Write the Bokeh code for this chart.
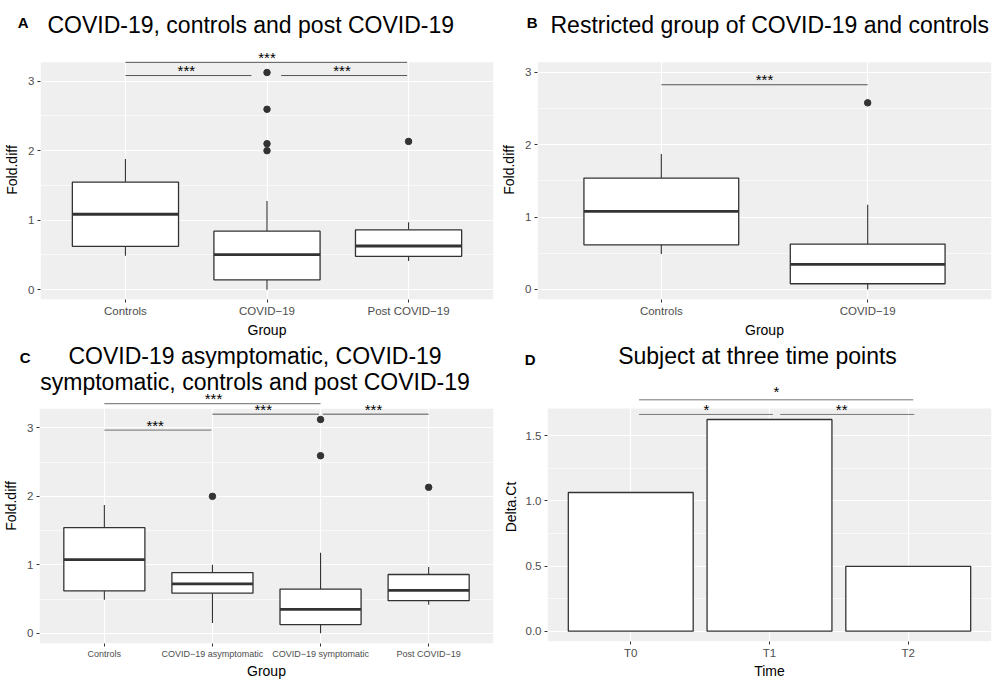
from bokeh.plotting import figure
from bokeh.models import Range1d, FixedTicker, Label, Arrow, PrintfTickFormatter
from bokeh.layouts import column, row
from bokeh.embed import file_html
from bokeh.resources import INLINE

FONT = "Liberation Sans"
BG = "#EEEFEE"
INK = "#333333"

# ---------------- data ----------------
# Panel A
a_groups = ["Controls", "COVID−19", "Post COVID−19"]
a_lower = [0.49, 0.0, 0.414]
a_q1 = [0.624, 0.143, 0.481]
a_med = [1.086, 0.505, 0.629]
a_q3 = [1.548, 0.843, 0.862]
a_upper = [1.88, 1.276, 0.971]
a_out_group = ["COVID−19", "COVID−19", "COVID−19", "COVID−19", "Post COVID−19"]
a_out_vals = [2.0, 2.1, 2.595, 3.124, 2.133]

# Panel B
b_groups = ["Controls", "COVID−19"]
b_lower = [0.49, 0.0]
b_q1 = [0.616, 0.078]
b_med = [1.078, 0.347]
b_q3 = [1.539, 0.626]
b_upper = [1.872, 1.17]
b_out_group = ["COVID−19"]
b_out_vals = [2.58]

# Panel C
c_groups = ["Controls", "COVID−19 asymptomatic", "COVID−19 symptomatic", "Post COVID−19"]
c_lower = [0.49, 0.151, 0.0, 0.415]
c_q1 = [0.618, 0.585, 0.127, 0.476]
c_med = [1.075, 0.722, 0.349, 0.627]
c_q3 = [1.542, 0.887, 0.646, 0.858]
c_upper = [1.873, 1.0, 1.175, 0.967]
c_out_group = ["COVID−19 asymptomatic", "COVID−19 symptomatic", "COVID−19 symptomatic", "Post COVID−19"]
c_out_vals = [2.0, 2.594, 3.123, 2.132]

# Panel D
d_times = ["T0", "T1", "T2"]
d_values = [1.064, 1.624, 0.498]

# significance brackets: (x_start, x_end, y, label, label_x, label_offset_px)
a_sig = [(1.0, 1.89, 3.08, "***", 1.43, 5), (2.10, 2.99, 3.08, "***", 2.53, 5),
         (1.0, 2.99, 3.27, "***", 2.0, 5)]
b_sig = [(1.0, 2.0, 2.83, "***", 1.5, 5)]
c_sig = [(1.0, 1.99, 2.967, "***", 1.47, 5), (2.0, 2.985, 3.20, "***", 2.47, 5),
         (3.02, 4.0, 3.20, "***", 3.49, 5), (1.0, 3.0, 3.354, "***", 2.01, 5)]
d_sig = [(1.06, 2.025, 1.663, "*", 1.545, 5), (2.077, 3.043, 1.663, "**", 2.52, 5),
         (1.06, 3.036, 1.775, "*", 2.05, 8)]


# ---------------- helpers ----------------
def make_fig(width, height, L, R, extra_top, B, xr, gray_y, yticks, yminor, xlabels, xlabel, ylabel,
             tick_size="11.5px", ylab_standoff=5, xlab_standoff=2):
    gray_h = height - extra_top - B
    y_end = gray_y[1] + extra_top * (gray_y[1] - gray_y[0]) / gray_h
    p = figure(width=width, height=height, x_range=Range1d(*xr), y_range=Range1d(gray_y[0], y_end),
               output_backend="svg", toolbar_location=None,
               min_border_left=L, min_border_right=R, min_border_top=0, min_border_bottom=B,
               background_fill_color="white", border_fill_color="white", outline_line_color=None)
    # ggplot-style grey panel
    p.quad(left=[xr[0]], right=[xr[1]], bottom=[gray_y[0]], top=[gray_y[1]],
           fill_color=BG, line_color=None, level="image")
    positions = [i + 1 for i in range(len(xlabels))]
    p.xaxis.ticker = FixedTicker(ticks=positions)
    p.xaxis.major_label_overrides = {pos: lab for pos, lab in zip(positions, xlabels)}
    p.yaxis.ticker = FixedTicker(ticks=yticks, minor_ticks=yminor)
    for ax in (p.xaxis[0], p.yaxis[0]):
        ax.axis_line_color = None
        ax.major_tick_line_color = INK
        ax.major_tick_in = 0
        ax.major_tick_out = 3
        ax.minor_tick_line_color = None
        ax.major_label_text_color = "#4D4D4D"
        ax.major_label_text_font = FONT
        ax.major_label_standoff = 2
        ax.axis_label_text_font = FONT
        ax.axis_label_text_font_style = "normal"
        ax.axis_label_text_font_size = "14px"
        ax.axis_label_text_color = "black"
    p.xaxis.axis_label_standoff = xlab_standoff
    p.yaxis.axis_label_standoff = ylab_standoff
    p.xaxis.major_label_text_font_size = tick_size
    p.yaxis.major_label_text_font_size = "11.5px"
    p.xaxis.axis_label = xlabel
    p.yaxis.axis_label = ylabel
    p.xgrid.ticker = FixedTicker(ticks=positions)
    p.xgrid.grid_line_color = "white"
    p.xgrid.grid_line_width = 1.2
    p.ygrid.grid_line_color = "white"
    p.ygrid.grid_line_width = 1.2
    p.ygrid.minor_grid_line_color = "white"
    p.ygrid.minor_grid_line_width = 0.6
    geom = dict(L=L, fw=width - L - R, fh=height - B, xr=xr, yr=(gray_y[0], y_end))
    return p, geom


def px_text(p, g, px, py, s, size, align="center"):
    """Text placed by pixel position (from the figure's top-left corner) inside a data frame."""
    x = g["xr"][0] + (px - g["L"]) / g["fw"] * (g["xr"][1] - g["xr"][0])
    y = g["yr"][1] - py / g["fh"] * (g["yr"][1] - g["yr"][0])
    p.add_layout(Label(x=x, y=y, text=s, text_font=FONT, text_font_size=size,
                       text_align=align, text_baseline="middle", text_color="black"))


def strip(width, height, L, R, top_pad=0, letter=None, letter_standoff=0):
    """Title strip: data coordinates equal pixels from the strip's top-left corner.
    The panel letter is the (horizontal) label of an empty y axis."""
    p = figure(width=width, height=height, x_range=Range1d(L, width - R), y_range=Range1d(height, top_pad),
               x_axis_type=None, output_backend="svg", toolbar_location=None,
               min_border_left=L, min_border_right=R, min_border_top=top_pad, min_border_bottom=0,
               outline_line_color=None, background_fill_color="white", border_fill_color="white")
    p.ygrid.visible = False
    ax = p.yaxis[0]
    ax.ticker = FixedTicker(ticks=[])
    ax.axis_line_color = None
    ax.major_tick_line_color = None
    ax.minor_tick_line_color = None
    ax.major_tick_out = 0
    ax.major_tick_in = 0
    ax.minor_tick_out = 0
    ax.major_label_standoff = 0
    if letter:
        ax.axis_label = letter
        ax.axis_label_orientation = "horizontal"
        ax.axis_label_text_font = FONT
        ax.axis_label_text_font_style = "bold"
        ax.axis_label_text_font_size = "15px"
        ax.axis_label_text_color = "black"
        ax.axis_label_standoff = letter_standoff
    return p


def add_text(p, px, py, s, size, align="left"):
    # py is the vertical centre of the text line (pixels from the top of the strip)
    p.add_layout(Label(x=px, y=py, text=s, text_font=FONT, text_font_size=size,
                       text_align=align, text_baseline="middle", text_color="black"))


def boxplot(p, groups, lower, q1, med, q3, upper, out_group, out_vals, width=0.75):
    pos = {gname: i + 1 for i, gname in enumerate(groups)}
    xs = [pos[gname] for gname in groups]
    p.segment(x0=xs, y0=lower, x1=xs, y1=q1, line_color=INK, line_width=1.1)
    p.segment(x0=xs, y0=q3, x1=xs, y1=upper, line_color=INK, line_width=1.1)
    p.quad(left=[x - width / 2 for x in xs], right=[x + width / 2 for x in xs],
           bottom=q1, top=q3, fill_color="white", line_color=INK, line_width=1.3)
    p.segment(x0=[x - width / 2 for x in xs], y0=med, x1=[x + width / 2 for x in xs], y1=med,
              line_color=INK, line_width=2.8)
    p.scatter(x=[pos[gname] for gname in out_group], y=out_vals, size=6.5,
              fill_color=INK, line_color=INK)


def brackets(p, sig, color, lw=1.0):
    for x0, x1, y, lab, lx, off in sig:
        p.add_layout(Arrow(start=None, end=None, x_start=x0, y_start=y, x_end=x1, y_end=y,
                           line_color=color, line_width=lw))
        p.add_layout(Label(x=lx, y=y, y_offset=off, text=lab, text_font=FONT, text_font_size="15px",
                           text_align="center", text_baseline="middle", text_color="black"))


# ---------------- panel A ----------------
ta = strip(497, 40, 40, 4, top_pad=4, letter="A", letter_standoff=12)
add_text(ta, 47, 24, "COVID-19, controls and post COVID-19", "23px")
pa, ga = make_fig(497, 300, 40, 4, 22, 39, (0.4, 3.6), (-0.14, 3.27), [0, 1, 2, 3],
                  [0.5, 1.5, 2.5], a_groups, "Group", "Fold.diff")
boxplot(pa, a_groups, a_lower, a_q1, a_med, a_q3, a_upper, a_out_group, a_out_vals)
brackets(pa, a_sig, "#555555")

# ---------------- panel B ----------------
tb = strip(497, 40, 40, 3, top_pad=4, letter="B", letter_standoff=0)
add_text(tb, 53, 24, "Restricted group of COVID-19 and controls", "23px")
pb, gb = make_fig(497, 300, 40, 3, 22, 39, (0.4, 2.6), (-0.14, 3.14), [0, 1, 2, 3],
                  [0.5, 1.5, 2.5], b_groups, "Group", "Fold.diff")
boxplot(pb, b_groups, b_lower, b_q1, b_med, b_q3, b_upper, b_out_group, b_out_vals)
brackets(pb, b_sig, "#555555")

# ---------------- panel C ----------------
tc = strip(497, 28, 38, 4, top_pad=6, letter="C", letter_standoff=9)
add_text(tc, 254, 15, "COVID-19 asymptomatic, COVID-19", "23px", align="center")
pc, gc = make_fig(497, 313, 38, 4, 41, 33, (0.4, 4.6), (-0.15, 3.28), [0, 1, 2, 3],
                  [0.5, 1.5, 2.5], c_groups, "Group", "Fold.diff", tick_size="9px", xlab_standoff=1)
px_text(pc, gc, 254, 13.5, "symptomatic, controls and post COVID-19", "23px")
boxplot(pc, c_groups, c_lower, c_q1, c_med, c_q3, c_upper, c_out_group, c_out_vals)
brackets(pc, c_sig, "#888888", lw=1.3)

# ---------------- panel D ----------------
td = strip(497, 32, 50, 3, top_pad=6, letter="D", letter_standoff=12)
add_text(td, 260, 15, "Subject at three time points", "23px", align="center")
pd_, gd = make_fig(497, 309, 50, 3, 37, 33, (0.4, 3.6), (-0.079, 1.708), [0, 0.5, 1.0, 1.5],
                   [0.25, 0.75, 1.25], d_times, "Time", "Delta.Ct", ylab_standoff=4, xlab_standoff=1)
pd_.yaxis.formatter = PrintfTickFormatter(format="%.1f")
d_pos = [i + 1 for i in range(len(d_times))]
pd_.vbar(x=d_pos, top=d_values, bottom=0, width=0.9, fill_color="white", line_color=INK, line_width=1.3)
brackets(pd_, d_sig, "#777777")

layout = column(row(column(ta, pa), column(tb, pb)), row(column(tc, pc), column(td, pd_)))
open("out.html", "w").write(file_html(layout, INLINE))
